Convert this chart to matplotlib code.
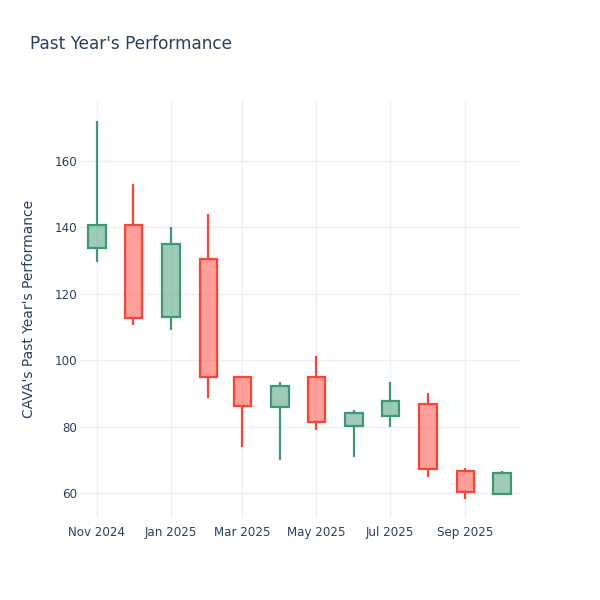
import datetime as dt

import matplotlib

matplotlib.use("Agg")
import matplotlib.dates as mdates
from matplotlib import pyplot as plt

# monthly candles
months = [
    "2024-11-01", "2024-12-01", "2025-01-01", "2025-02-01",
    "2025-03-01", "2025-04-01", "2025-05-01", "2025-06-01",
    "2025-07-01", "2025-08-01", "2025-09-01", "2025-10-01",
]
opens = [133.7, 140.8, 113.0, 130.6, 95.0, 86.0, 94.9, 80.2, 83.2, 86.7, 66.6, 59.8]
highs = [172.0, 153.1, 140.2, 144.2, 95.3, 93.6, 101.3, 85.0, 93.4, 90.0, 67.7, 66.7]
lows = [129.5, 110.6, 109.1, 88.7, 74.0, 70.1, 79.0, 71.0, 80.0, 64.9, 58.3, 59.7]
closes = [140.7, 112.7, 134.9, 94.9, 86.2, 92.2, 81.3, 84.2, 87.8, 67.3, 60.2, 66.0]

tick_dates = ["2024-11-01", "2025-01-01", "2025-03-01", "2025-05-01", "2025-07-01", "2025-09-01"]

UP = "#3D9970"
DOWN = "#FF4136"
TEXT = "#2a3f5f"
GRID = "#EBF0F8"


def main() -> None:
    plt.rcParams["font.family"] = ["DejaVu Sans"]
    fig = plt.figure(figsize=(6, 6), dpi=100)
    ax = fig.add_axes([80 / 600, 1 - 518 / 600, 440 / 600, 418 / 600])

    dates = [dt.datetime.fromisoformat(m) for m in months]
    xs = mdates.date2num(dates)
    width = 14.4
    lw = 1.6

    for x, o, h, l, c in zip(xs, opens, highs, lows, closes):
        col = UP if c >= o else DOWN
        lo, hi = min(o, c), max(o, c)
        ax.vlines(x, hi, h, color=col, linewidth=lw, zorder=3)
        ax.vlines(x, l, lo, color=col, linewidth=lw, zorder=3)
        ax.bar(x, hi - lo, bottom=lo, width=width, facecolor=col, alpha=0.5,
               edgecolor="none", zorder=3)
        ax.bar(x, hi - lo, bottom=lo, width=width, facecolor="none",
               edgecolor=col, linewidth=lw, zorder=4)

    ax.set_xlim(mdates.date2num(dt.datetime(2024, 10, 18)),
                mdates.date2num(dt.datetime(2025, 10, 16)))
    ax.set_ylim(52.5, 178.4)

    ax.set_xticks(mdates.date2num([dt.datetime.fromisoformat(t) for t in tick_dates]))
    ax.xaxis.set_major_formatter(mdates.DateFormatter("%b %Y"))
    ax.set_yticks([60, 80, 100, 120, 140, 160])

    ax.grid(True, color=GRID, linewidth=1, zorder=0)
    ax.set_axisbelow(True)
    for spine in ax.spines.values():
        spine.set_visible(False)
    ax.tick_params(length=0, labelsize=8.6, labelcolor=TEXT)
    ax.tick_params(axis="x", pad=6)
    ax.tick_params(axis="y", pad=2)

    ax.set_ylabel("CAVA's Past Year's Performance", fontsize=10, color=TEXT)
    ax.yaxis.set_label_coords(-44 / 440, 0.5)
    fig.text(30 / 600, 1 - 44 / 600, "Past Year's Performance", fontsize=12.2,
             color=TEXT, va="center", ha="left")

    fig.savefig("out.png", dpi=100, facecolor="white")


if __name__ == "__main__":
    main()
